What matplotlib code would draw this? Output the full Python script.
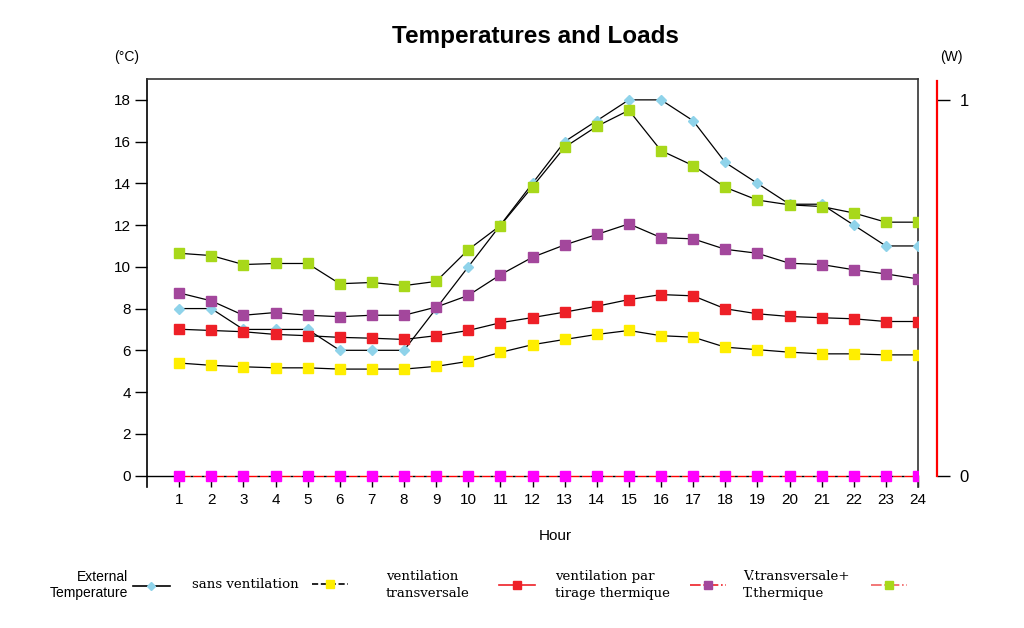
import numpy as np
import matplotlib
matplotlib.use("Agg")
import matplotlib.pyplot as plt
from matplotlib.lines import Line2D

plt.rcParams['font.family'] = ['Liberation Sans', 'DejaVu Sans']

hours = list(range(1, 25))

ext_temp = [8, 8, 7, 7, 7, 6, 6, 6, 8, 10, 12, 14, 16, 17, 18, 18, 17, 15, 14, 13, 13, 12, 11, 11]
sans_vent = [5.39, 5.28, 5.21, 5.16, 5.16, 5.10, 5.10, 5.10, 5.23, 5.47, 5.90, 6.27,
             6.52, 6.76, 6.95, 6.70, 6.63, 6.15, 6.03, 5.91, 5.83, 5.83, 5.78, 5.78]
vent_transv = [7.01, 6.95, 6.89, 6.76, 6.70, 6.62, 6.58, 6.52, 6.70, 6.95, 7.32, 7.57,
               7.83, 8.11, 8.43, 8.67, 8.61, 7.99, 7.75, 7.62, 7.56, 7.51, 7.38, 7.38]
vent_tirage = [8.75, 8.37, 7.68, 7.81, 7.68, 7.61, 7.68, 7.68, 8.07, 8.63, 9.62, 10.46,
               11.05, 11.55, 12.06, 11.40, 11.34, 10.84, 10.65, 10.17, 10.11, 9.86, 9.66, 9.42]
vt_tt = [10.65, 10.54, 10.11, 10.16, 10.16, 9.19, 9.25, 9.10, 9.30, 10.82, 11.98, 13.84,
         15.73, 16.73, 17.50, 15.57, 14.85, 13.81, 13.20, 12.97, 12.89, 12.58, 12.14, 12.14]
loads = [0] * 24

series = [
    ("External\nTemperature", ext_temp, '#8fd3ea', 'D', 5),
    ("sans ventilation", sans_vent, '#ffee00', 's', 7),
    ("ventilation\ntransversale", vent_transv, '#ee2027', 's', 7),
    ("ventilation par\ntirage thermique", vent_tirage, '#a3479c', 's', 7),
    ("V.transversale+\nT.thermique", vt_tt, '#a8d81a', 's', 7),
]

fig = plt.figure(figsize=(10.24, 6.28), dpi=100)
ax = fig.add_axes([147 / 1024, 1 - 487 / 628, (918 - 147) / 1024, (487 - 79) / 628])

for label, vals, col, mk, ms in series:
    ax.plot(hours, vals, color='black', lw=0.9, marker=mk, ms=ms,
            mfc=col, mec=col, zorder=3)

ax.set_xlim(0, 24)
ax.set_ylim(-0.55, 19)
ax.set_xticks(hours)
ax.set_yticks(range(0, 19, 2))
ax.tick_params(axis='x', direction='in', length=8.3, width=1, pad=4, labelsize=11)
ax.tick_params(axis='y', direction='out', length=8.6, width=1, pad=3, labelsize=11)
ax.spines['bottom'].set_visible(False)
for s in ['left', 'right', 'top']:
    ax.spines[s].set_color('#333333')
    ax.spines[s].set_linewidth(1.2)
ax.spines['left'].set_color('black')
ax.axhline(0, xmin=0, xmax=1 / 24, color='black', lw=1)

# loads on the right axis
ax2 = ax.twinx()
ax2.set_ylim(-0.55 / 18, 19 / 18)
ax2.plot(hours, loads, color='black', lw=1, linestyle=(0, (2, 6)), gapcolor='red',
         marker='s', ms=7, mfc='#ff00ff', mec='#ff00ff', zorder=4)
ax2.spines['right'].set_position(('outward', 13.7))
ax2.spines['right'].set_color('#ff0000')
ax2.spines['right'].set_linewidth(1.6)
ax2.spines['right'].set_bounds(0, 1.05)
for s in ['left', 'top', 'bottom']:
    ax2.spines[s].set_visible(False)
ax2.set_yticks([0, 1])
ax2.tick_params(axis='y', direction='out', length=9.4, width=1, pad=7, labelsize=12,
                color='black')

fig.text(535 / 1024, 1 - 36 / 628, "Temperatures and Loads", ha='center', va='center',
         fontsize=17.5, fontweight='bold')
fig.text(127 / 1024, 1 - 57 / 628, "(°C)", ha='center', va='center', fontsize=10)
fig.text(951 / 1024, 1 - 57 / 628, "(W)", ha='center', va='center', fontsize=10)
fig.text(555 / 1024, 1 - 536 / 628, "Hour", ha='center', va='center', fontsize=11)

# legend, one block per entry
leg_x = [170, 192, 386, 555, 743]
leg_pad = [0.3, 1.0, 2.2, 1.5, 1.6]
leg_ls = ['-', '--', '-', '-.', '-.']
leg_lc = ['black', 'black', '#ee2027', '#ee2027', '#f06060']
for i, (label, vals, col, mk, ms) in enumerate(series):
    h = Line2D([], [], color=leg_lc[i], lw=1.2, ls=leg_ls[i], marker=mk, ms=ms - 1,
               mfc=col, mec=col)
    if i == 0:
        fs, fam, loc = 10, ['Liberation Sans', 'DejaVu Sans'], 'center right'
    else:
        fs, fam, loc = 9.6, ['DejaVu Serif'], 'center left'
    leg = fig.legend(handles=[h], labels=[label], loc=loc,
                     bbox_to_anchor=(leg_x[i] / 1024, 1 - 585 / 628),
                     frameon=False, markerfirst=False, handlelength=2.7,
                     handletextpad=leg_pad[i], borderpad=0, borderaxespad=0,
                     prop={'family': fam, 'size': fs})
    t = leg.get_texts()[0]
    t.set_linespacing(1.35)
    if i == 0:
        t.set_multialignment('right')
        t.set_linespacing(1.25)

fig.savefig("out.png", dpi=100)
